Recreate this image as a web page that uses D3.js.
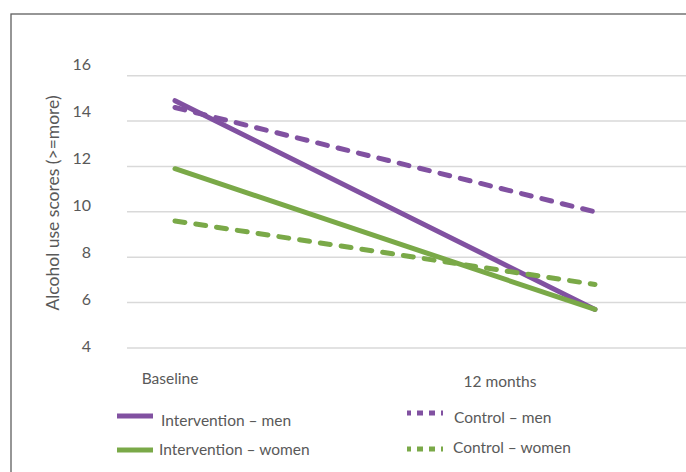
<!DOCTYPE html>
<html>
<head>
<meta charset="utf-8">
<script src="https://cdn.jsdelivr.net/npm/d3@7"></script>
<style>
  html, body { margin: 0; padding: 0; background: #fff; }
  svg { display: block; }
  text { font-family: Lato, "Open Sans", sans-serif; fill: #595959; }
</style>
</head>
<body>
<div id="chart"></div>
<script>
// ---- data ----
const categories = ["Baseline", "12 months"];
const interventionMen = [14.9, 5.7];
const interventionWomen = [11.9, 5.7];
const controlMen = [14.6, 10.0];
const controlWomen = [9.6, 6.8];
const yTicks = [4, 6, 8, 10, 12, 14, 16];
const seriesNames = ["Intervention – men", "Intervention – women", "Control – men", "Control – women"];
const yTitle = "Alcohol use scores (>=more)";

const W = 686, H = 472;
const purple = "#8151a1", green = "#7aa948";

const series = [
  { name: seriesNames[0], values: interventionMen, color: purple, dashed: false },
  { name: seriesNames[1], values: interventionWomen, color: green, dashed: false },
  { name: seriesNames[2], values: controlMen, color: purple, dashed: true },
  { name: seriesNames[3], values: controlWomen, color: green, dashed: true }
];

const svg = d3.select("#chart").append("svg").attr("width", W).attr("height", H);

// frame
svg.append("rect").attr("x", 11).attr("y", 14).attr("width", 720).attr("height", 520)
  .attr("fill", "none").attr("stroke", "#5f5f5f").attr("stroke-width", 1.3);

const y = d3.scaleLinear().domain([4, 16]).range([348, 75.7]);
const yLab = d3.scaleLinear().domain([4, 16]).range([345, 63]);
const x = d3.scalePoint().domain(categories).range([175, 595]);
const xLab = d3.scalePoint().domain(categories).range([170, 500]);

// gridlines
svg.append("g").selectAll("line").data(yTicks).join("line")
  .attr("x1", 127).attr("x2", W)
  .attr("y1", d => y(d)).attr("y2", d => y(d))
  .attr("stroke", "#d9d9d9").attr("stroke-width", 1.5);

// y tick labels
svg.append("g").selectAll("text").data(yTicks).join("text")
  .attr("x", 91).attr("y", d => yLab(d))
  .attr("text-anchor", "end").attr("dominant-baseline", "central")
  .attr("font-size", 16).text(d => d);

// y title
svg.append("text")
  .attr("transform", "translate(52,203) rotate(-90)")
  .attr("text-anchor", "middle").attr("dominant-baseline", "central")
  .attr("font-size", 17.5).text(yTitle);

// x category labels
svg.append("g").selectAll("text").data(categories).join("text")
  .attr("x", d => xLab(d)).attr("y", (d, i) => 378 + i * 3)
  .attr("text-anchor", "middle").attr("dominant-baseline", "central")
  .attr("font-size", 15.5).text(d => d);

// lines
const line = d3.line().x((d, i) => x(categories[i])).y(d => y(d));
svg.append("g").selectAll("path").data(series).join("path")
  .attr("d", d => line(d.values))
  .attr("fill", "none")
  .attr("stroke", d => d.color)
  .attr("stroke-width", 5)
  .attr("stroke-linecap", "round")
  .attr("stroke-dasharray", d => d.dashed ? "10,11" : null);

// legend
const legendPos = [
  { lx: 117, ly: 416, tx: 161, ty: 420 },
  { lx: 117, ly: 450, tx: 159, ty: 449 },
  { lx: 407, ly: 413, tx: 454, ty: 417 },
  { lx: 407, ly: 449, tx: 453, ty: 447 }
];
const lg = svg.append("g").selectAll("g").data(series).join("g");
lg.append("line")
  .attr("x1", (d, i) => legendPos[i].lx).attr("x2", (d, i) => legendPos[i].lx + 36)
  .attr("y1", (d, i) => legendPos[i].ly).attr("y2", (d, i) => legendPos[i].ly)
  .attr("stroke", d => d.color)
  .attr("stroke-width", 5)
  .attr("stroke-dasharray", d => d.dashed ? "4,6,6,6,6,6,6" : null);
lg.append("text")
  .attr("x", (d, i) => legendPos[i].tx).attr("y", (d, i) => legendPos[i].ty)
  .attr("dominant-baseline", "central")
  .attr("font-size", 15.5).text(d => d.name);
</script>
</body>
</html>
